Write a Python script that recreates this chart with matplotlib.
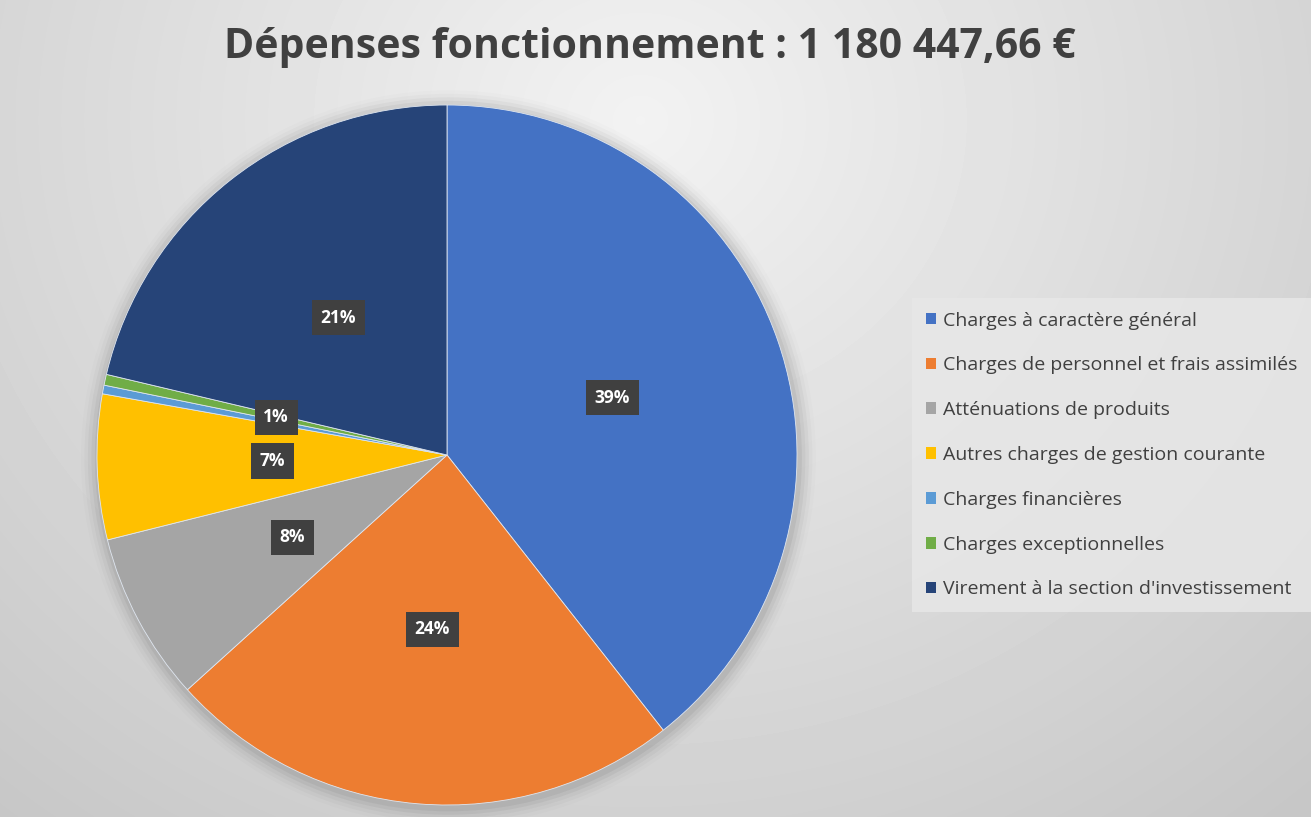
import numpy as np
import matplotlib.pyplot as plt

plt.rcParams['font.family'] = ['Open Sans', 'DejaVu Sans']

TITLE = 'Dépenses fonctionnement : 1 180 447,66 €'

categories = [
    'Charges à caractère général',
    'Charges de personnel et frais assimilés',
    'Atténuations de produits',
    'Autres charges de gestion courante',
    'Charges financières',
    'Charges exceptionnelles',
    "Virement à la section d'investissement",
]
shares = [39.4, 23.9, 7.8, 6.7, 0.4, 0.5, 21.3]
colors = ['#4472C4', '#ED7D31', '#A5A5A5', '#FFC000', '#5B9BD5', '#70AD47', '#264478']

W, H = 1311, 817
fig = plt.figure(figsize=(W / 100, H / 100), dpi=100)

# background gradient
bg = fig.add_axes([0, 0, 1, 1], zorder=-10)
yy, xx = np.mgrid[0:H, 0:W]
d = np.sqrt(((xx - 640) / 1.0) ** 2 + ((yy - 120) / 0.9) ** 2)
shade = 0.95 - 0.17 * np.clip(d / 1000, 0, 1)
bg.imshow(shade, cmap='gray', vmin=0, vmax=1, extent=[0, W, H, 0], aspect='auto')
bg.set_xlim(0, W)
bg.set_ylim(H, 0)
bg.axis('off')

# pie
R = 350
cx, cy = 447, 455
ax = fig.add_axes([(cx - R) / W, (H - cy - R) / H, 2 * R / W, 2 * R / H])

# soft shadow
for i, a in enumerate(np.linspace(0.05, 0.01, 5)):
    ax.add_patch(plt.Circle((0.004, -0.008), 1.0 + 0.01 * (i + 1), color='black',
                            alpha=a, zorder=0, lw=0, clip_on=False))

wedges, _ = ax.pie(shares, colors=colors, startangle=90, counterclock=False,
                   radius=1.0, wedgeprops=dict(edgecolor='#dfe6f0', linewidth=0.6))
for w in wedges:
    w.set_zorder(2)

total = sum(shares)
theta = 90.0
for s in shares:
    span = 360.0 * s / total
    mid = np.deg2rad(theta - span / 2)
    theta -= span
    pct = int(np.floor(100 * s / total + 0.5))
    if s < 0.45:
        continue
    ax.text(0.5 * np.cos(mid), 0.5 * np.sin(mid), f'{pct}%', ha='center', va='center',
            color='white', fontsize=12.5, fontweight='bold', zorder=5,
            bbox=dict(boxstyle='square,pad=0.5', facecolor='#404040', edgecolor='none'))

ax.set_xlim(-1, 1)
ax.set_ylim(-1, 1)
ax.set_aspect('equal')
ax.axis('off')

fig.text(650 / W, 1 - 48 / H, TITLE, ha='center', va='center', fontsize=29.5,
         fontweight='bold', color='#404040')

leg = fig.legend(wedges, categories, loc='center left', bbox_to_anchor=(912 / W, 1 - 455 / H),
                 frameon=True, facecolor='#e8e8e8', edgecolor='none', framealpha=0.8,
                 fontsize=14, labelspacing=1.38, handlelength=0.55, handleheight=0.55,
                 handletextpad=0.35, borderpad=0.7, fancybox=False, borderaxespad=0)
for t in leg.get_texts():
    t.set_color('#404040')
for h in leg.legend_handles:
    h.set_edgecolor('none')

fig.savefig('out.png', dpi=100)
